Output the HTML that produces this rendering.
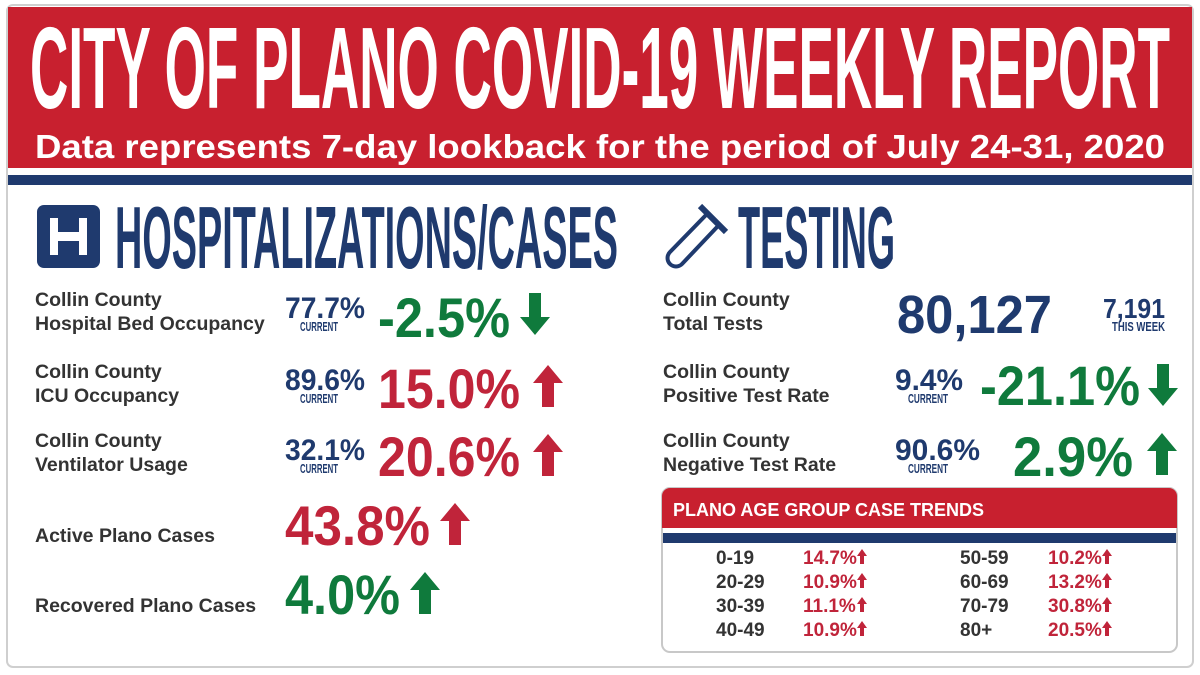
<!DOCTYPE html>
<html><head><meta charset="utf-8"><style>
html,body{margin:0;padding:0;background:#fff;}
svg{display:block;}
.lab{font-family:"Liberation Sans",sans-serif;font-weight:bold;font-size:19.5px;fill:#333;}
.nar{font-family:"Liberation Sans Narrow","Liberation Sans",sans-serif;font-weight:bold;}
.big{font-family:"Liberation Sans",sans-serif;font-weight:bold;}
</style></head><body>
<svg width="1200" height="675" viewBox="0 0 1200 675">
<rect x="7" y="5" width="1186" height="662" rx="6" fill="#fff" stroke="#cfcfcf" stroke-width="2"/>
<rect x="8" y="7" width="1184" height="161" fill="#c8202f"/>
<rect x="8" y="175" width="1184" height="10" fill="#1f3a6e"/>
<text class="nar" x="30" y="108" font-size="116" textLength="1140" lengthAdjust="spacingAndGlyphs" fill="#fff">CITY OF PLANO COVID-19 WEEKLY REPORT</text>
<text class="big" x="35" y="158" font-size="33" textLength="1130" lengthAdjust="spacingAndGlyphs" fill="#fff">Data represents 7-day lookback for the period of July 24-31, 2020</text>

<g>
<rect x="37" y="205" width="63" height="63" rx="7" fill="#1f3a6e"/>
<rect x="50" y="218" width="37" height="37" fill="#fff"/>
<rect x="58" y="218" width="21" height="14" fill="#1f3a6e"/>
<rect x="58" y="241" width="21" height="14" fill="#1f3a6e"/>
</g>
<text class="nar" x="115" y="268" font-size="88" textLength="503" lengthAdjust="spacingAndGlyphs" fill="#1f3a6e">HOSPITALIZATIONS/CASES</text>
<g fill="none" stroke="#1f3a6e" stroke-width="4">
<path d="M707 214 L670 252 a8 8 0 0 0 12 12 L718 226"/>
<line x1="700" y1="206" x2="726" y2="232" stroke-width="6"/>
</g>
<text class="nar" x="738" y="268" font-size="88" textLength="157" lengthAdjust="spacingAndGlyphs" fill="#1f3a6e">TESTING</text>

<defs>
<path id="up" d="M15 0 L30 18 L21 18 L21 42 L9 42 L9 18 L0 18 Z"/>
<path id="down" d="M9 0 L21 0 L21 24 L30 24 L15 42 L0 24 L9 24 Z"/>
</defs>

<text class="lab" x="35" y="306">Collin County</text>
<text class="lab" x="35" y="330">Hospital Bed Occupancy</text>
<text class="nar" x="285" y="318" font-size="30" textLength="80" lengthAdjust="spacingAndGlyphs" fill="#1f3a6e">77.7%</text>
<text class="nar" x="300" y="331" font-size="13" textLength="38" lengthAdjust="spacingAndGlyphs" fill="#1f3a6e">CURRENT</text>
<text class="big" x="378" y="337" font-size="56" textLength="132" lengthAdjust="spacingAndGlyphs" fill="#0f7a3c">-2.5%</text>
<use href="#down" x="520" y="293" fill="#0f7a3c"/>

<text class="lab" x="35" y="378">Collin County</text>
<text class="lab" x="35" y="402">ICU Occupancy</text>
<text class="nar" x="285" y="390" font-size="30" textLength="80" lengthAdjust="spacingAndGlyphs" fill="#1f3a6e">89.6%</text>
<text class="nar" x="300" y="403" font-size="13" textLength="38" lengthAdjust="spacingAndGlyphs" fill="#1f3a6e">CURRENT</text>
<text class="big" x="378" y="408" font-size="56" textLength="142" lengthAdjust="spacingAndGlyphs" fill="#c0243a">15.0%</text>
<use href="#up" x="533" y="365" fill="#c0243a"/>

<text class="lab" x="35" y="447">Collin County</text>
<text class="lab" x="35" y="471">Ventilator Usage</text>
<text class="nar" x="285" y="460" font-size="30" textLength="80" lengthAdjust="spacingAndGlyphs" fill="#1f3a6e">32.1%</text>
<text class="nar" x="300" y="473" font-size="13" textLength="38" lengthAdjust="spacingAndGlyphs" fill="#1f3a6e">CURRENT</text>
<text class="big" x="378" y="476" font-size="56" textLength="142" lengthAdjust="spacingAndGlyphs" fill="#c0243a">20.6%</text>
<use href="#up" x="533" y="434" fill="#c0243a"/>

<text class="lab" x="35" y="542">Active Plano Cases</text>
<text class="big" x="285" y="545" font-size="56" textLength="145" lengthAdjust="spacingAndGlyphs" fill="#c0243a">43.8%</text>
<use href="#up" x="440" y="503" fill="#c0243a"/>

<text class="lab" x="35" y="612">Recovered Plano Cases</text>
<text class="big" x="285" y="614" font-size="56" textLength="115" lengthAdjust="spacingAndGlyphs" fill="#0f7a3c">4.0%</text>
<use href="#up" x="410" y="572" fill="#0f7a3c"/>

<text class="lab" x="663" y="306">Collin County</text>
<text class="lab" x="663" y="330">Total Tests</text>
<text class="big" x="897" y="333" font-size="54" textLength="155" lengthAdjust="spacingAndGlyphs" fill="#1f3a6e">80,127</text>
<text class="nar" x="1103" y="318" font-size="28" textLength="62" lengthAdjust="spacingAndGlyphs" fill="#1f3a6e">7,191</text>
<text class="nar" x="1112" y="331" font-size="13" textLength="53" lengthAdjust="spacingAndGlyphs" fill="#1f3a6e">THIS WEEK</text>

<text class="lab" x="663" y="378">Collin County</text>
<text class="lab" x="663" y="402">Positive Test Rate</text>
<text class="nar" x="895" y="390" font-size="30" textLength="68" lengthAdjust="spacingAndGlyphs" fill="#1f3a6e">9.4%</text>
<text class="nar" x="908" y="403" font-size="13" textLength="40" lengthAdjust="spacingAndGlyphs" fill="#1f3a6e">CURRENT</text>
<text class="big" x="980" y="405" font-size="56" textLength="160" lengthAdjust="spacingAndGlyphs" fill="#0f7a3c">-21.1%</text>
<use href="#down" x="1148" y="364" fill="#0f7a3c"/>

<text class="lab" x="663" y="447">Collin County</text>
<text class="lab" x="663" y="471">Negative Test Rate</text>
<text class="nar" x="895" y="460" font-size="30" textLength="85" lengthAdjust="spacingAndGlyphs" fill="#1f3a6e">90.6%</text>
<text class="nar" x="908" y="473" font-size="13" textLength="40" lengthAdjust="spacingAndGlyphs" fill="#1f3a6e">CURRENT</text>
<text class="big" x="1013" y="476" font-size="56" textLength="120" lengthAdjust="spacingAndGlyphs" fill="#0f7a3c">2.9%</text>
<use href="#up" x="1147" y="433" fill="#0f7a3c"/>

<g>
<rect x="662" y="488" width="515" height="164" rx="8" fill="#fff" stroke="#c8c8c8" stroke-width="2"/>
<path d="M670 488 H1169 a8 8 0 0 1 8 8 V528 H662 V496 a8 8 0 0 1 8 -8 Z" fill="#c8202f"/>
<rect x="663" y="533" width="513" height="10" fill="#1f3a6e"/>
<text class="big" x="673" y="516" font-size="18" fill="#fff">PLANO AGE GROUP CASE TRENDS</text>
</g>
<g id="ages" font-family="Liberation Sans, sans-serif" font-weight="bold" font-size="19"></g>
<script>
const ageLeft=["0-19","20-29","30-39","40-49"];
const valLeft=["14.7%","10.9%","11.1%","10.9%"];
const ageRight=["50-59","60-69","70-79","80+"];
const valRight=["10.2%","13.2%","30.8%","20.5%"];
const NS="http://www.w3.org/2000/svg";
const g=document.getElementById('ages');
function add(tag,attrs,txt){const e=document.createElementNS(NS,tag);for(const k in attrs)e.setAttribute(k,attrs[k]);if(txt)e.textContent=txt;g.appendChild(e);return e;}
function col(ages,vals,xa,xv){
  ages.forEach((a,i)=>{
    const y=564+i*24;
    const t=add('text',{x:xa,y:y,fill:'#333'},a);
    
    
    const v=add('text',{x:xv,y:y,fill:'#c0243a'},vals[i]);
    
    
    const ax=xv+54;
    const p=add('path',{d:`M${ax+5} ${y-15} L${ax+10} ${y-8} L${ax+7} ${y-8} L${ax+7} ${y} L${ax+3} ${y} L${ax+3} ${y-8} L${ax} ${y-8} Z`,fill:'#c0243a'});
    
    
  });
}
col(ageLeft,valLeft,716,803);
col(ageRight,valRight,960,1048);
</script>
</svg>
</body></html>
